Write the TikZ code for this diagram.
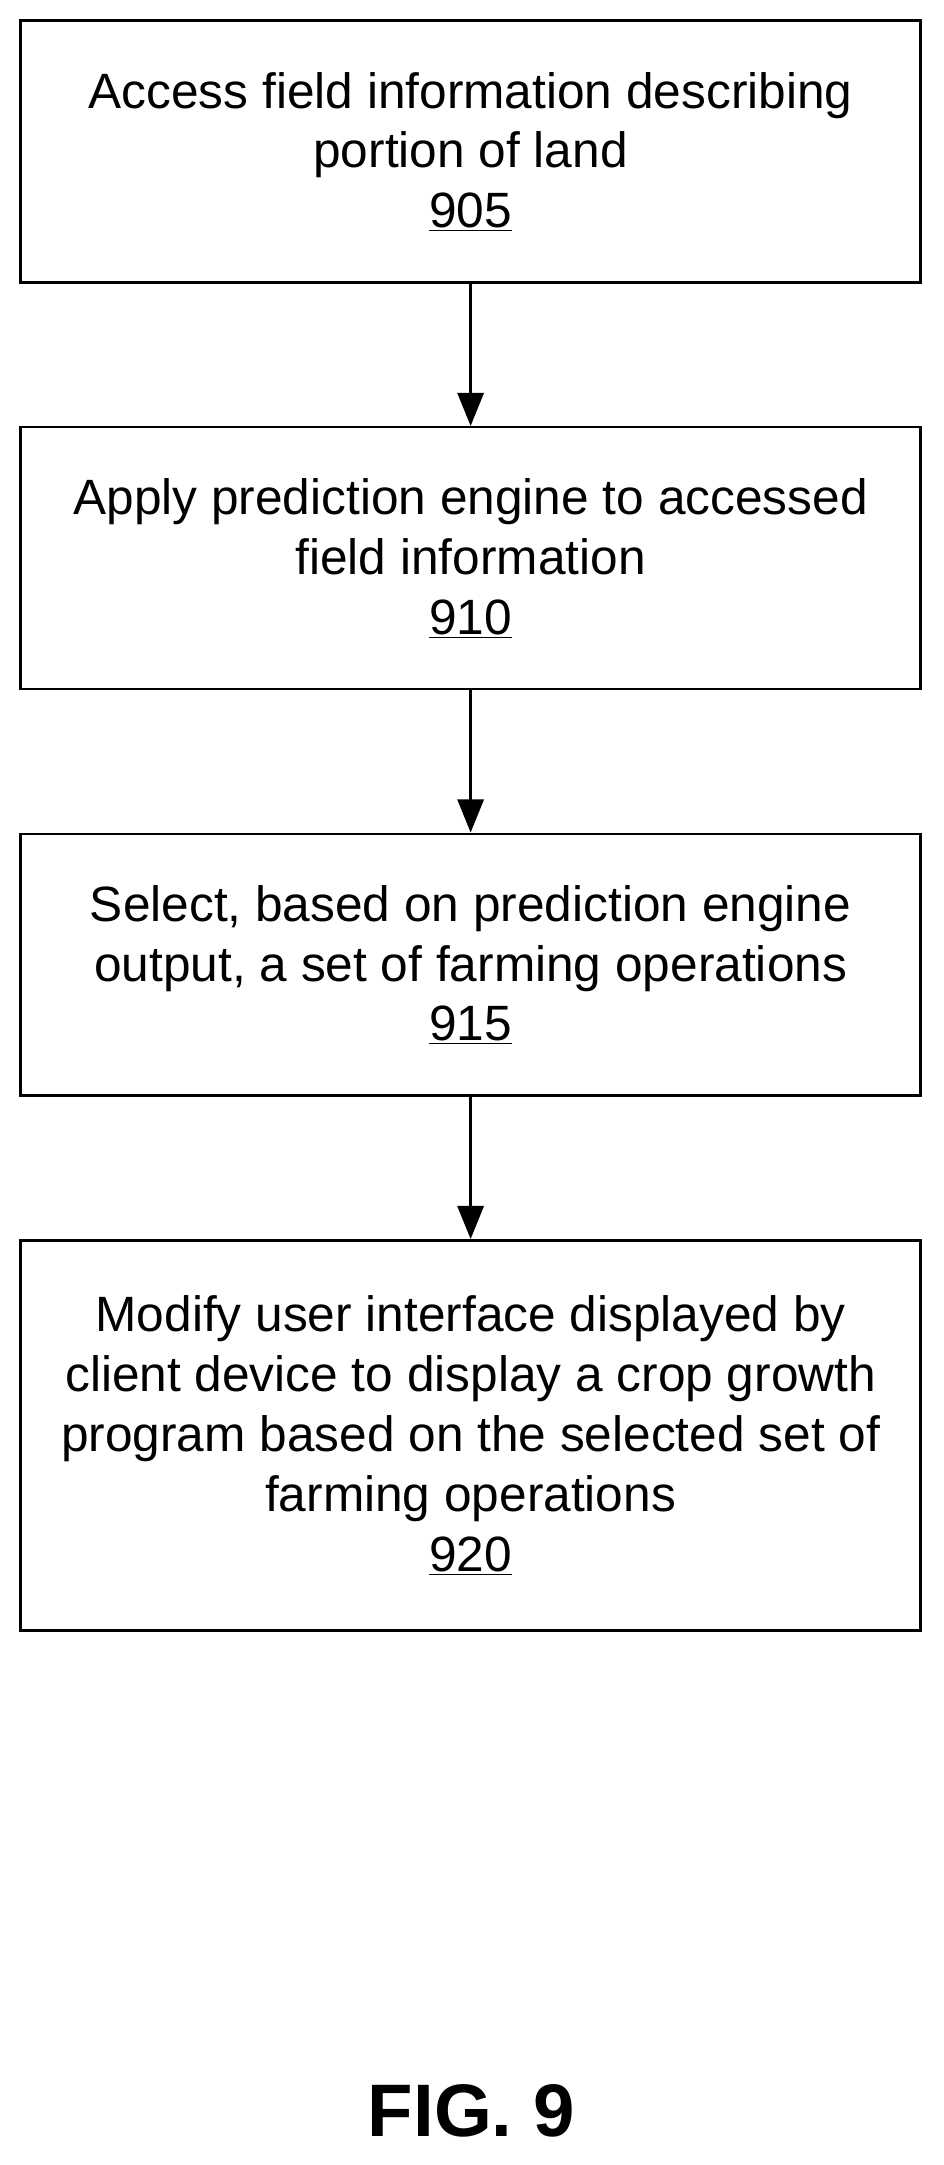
\documentclass[tikz,border=0pt]{standalone}
\usepackage{fontspec}
\setmainfont{Liberation Sans}
\usetikzlibrary{arrows.meta}
\begin{document}
\begin{tikzpicture}[x=1pt,y=-1pt,
  box/.style={draw,line width=1.8pt,minimum width=653pt,align=center,font=\fontsize{36}{43.5}\selectfont,inner sep=0pt},
  arr/.style={line width=1.8pt,-{Triangle[length=24pt,width=19pt]}}]
\useasboundingbox (0,0) rectangle (685,1571);
\node[box,minimum height=190pt] (a) at (341.5,110) {Access field information describing\\portion of land\\\underline{905}};
\node[box,minimum height=190pt] (b) at (341.5,405) {Apply prediction engine to accessed\\field information\\\underline{910}};
\node[box,minimum height=190pt] (c) at (341.5,700) {Select, based on prediction engine\\output, a set of farming operations\\\underline{915}};
\node[box,minimum height=283pt] (d) at (341.5,1041.5) {Modify user interface displayed by\\client device to display a crop growth\\program based on the selected set of\\farming operations\\\underline{920}};
\draw[arr] (a) -- (b);
\draw[arr] (b) -- (c);
\draw[arr] (c) -- (d);
\node[font=\fontsize{54}{60}\selectfont\bfseries] (f) at (342,1532) {FIG. 9};
\end{tikzpicture}
\end{document}
